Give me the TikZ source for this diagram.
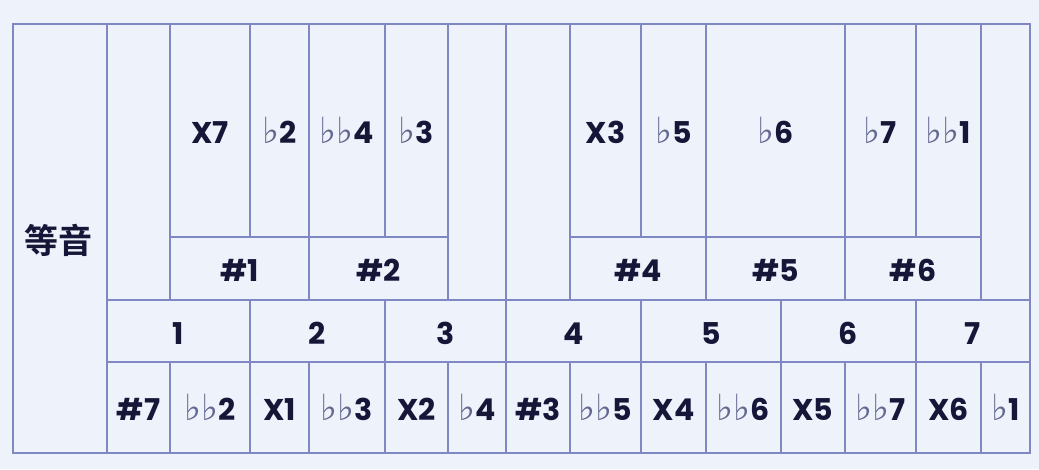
\documentclass[tikz,border=0pt]{standalone}
\usepackage{fontspec}
\setmainfont{Poppins}
\newfontfamily\flatfont{DejaVu Sans}
\newfontfamily\cjkfont{Noto Sans CJK SC}[BoldFont=* Bold]
\definecolor{bgc}{RGB}{238,242,250}
\definecolor{linec}{RGB}{128,136,196}
\definecolor{txtc}{RGB}{22,22,56}
\definecolor{flatc}{RGB}{100,104,145}
\newcommand{\fl}{{\flatfont\mdseries\color{flatc}\fontsize{36}{36}\selectfont\char"266D}}
\newcommand{\cell}[6]{%
  \draw[gridline] (#2,#3) rectangle (#4,#5);
  \node[celltext] (#1) at ({(#2+#4)/2},{(#3+#5)/2+13}) {#6};}
\tikzset{
  gridline/.style={draw=linec, line width=1.2pt},
  celltext/.style={anchor=base, text=txtc, font=\fontsize{30}{32}\selectfont\bfseries, inner sep=0pt}
}
\begin{document}
\begin{tikzpicture}[x=1pt,y=-1pt]
\fill[bgc] (0,0) rectangle (1039,469);
\useasboundingbox (0,0) rectangle (1039,469);
% left label column
\draw[gridline] (13,24) rectangle (107,453);
\node[text=txtc, font=\cjkfont\fontsize{34}{36}\selectfont\bfseries, inner sep=0pt] (label) at (58,240) {等音};
% empty columns
\cell{e1}{107}{24}{170}{300}{}
\cell{e2}{448}{24}{506}{300}{}
\cell{e3}{506}{24}{570}{300}{}
\cell{e4}{981}{24}{1030}{300}{}
% top cells
\cell{x7}{170}{24}{250}{237}{X7}
\cell{fb2}{250}{24}{309}{237}{\fl2}
\cell{ffb4}{309}{24}{385}{237}{\fl\fl4}
\cell{fb3}{385}{24}{448}{237}{\fl3}
\cell{x3}{570}{24}{641}{237}{X3}
\cell{fb5}{641}{24}{706}{237}{\fl5}
\cell{fb6}{706}{24}{845}{237}{\fl6}
\cell{fb7}{845}{24}{916}{237}{\fl7}
\cell{ffb1}{916}{24}{981}{237}{\fl\fl1}
% sharp row
\cell{s1}{170}{237}{309}{300}{\#1}
\cell{s2}{309}{237}{448}{300}{\#2}
\cell{s4}{570}{237}{706}{300}{\#4}
\cell{s5}{706}{237}{845}{300}{\#5}
\cell{s6}{845}{237}{981}{300}{\#6}
% number row
\cell{n1}{107}{300}{250}{362}{1}
\cell{n2}{250}{300}{385}{362}{2}
\cell{n3}{385}{300}{506}{362}{3}
\cell{n4}{506}{300}{641}{362}{4}
\cell{n5}{641}{300}{781}{362}{5}
\cell{n6}{781}{300}{916}{362}{6}
\cell{n7}{916}{300}{1030}{362}{7}
% bottom row
\cell{b1}{107}{362}{170}{453}{\#7}
\cell{b2}{170}{362}{250}{453}{\fl\fl2}
\cell{b3}{250}{362}{309}{453}{X1}
\cell{b4}{309}{362}{385}{453}{\fl\fl3}
\cell{b5}{385}{362}{448}{453}{X2}
\cell{b6}{448}{362}{506}{453}{\fl4}
\cell{b7}{506}{362}{570}{453}{\#3}
\cell{b8}{570}{362}{641}{453}{\fl\fl5}
\cell{b9}{641}{362}{706}{453}{X4}
\cell{b10}{706}{362}{781}{453}{\fl\fl6}
\cell{b11}{781}{362}{845}{453}{X5}
\cell{b12}{845}{362}{916}{453}{\fl\fl7}
\cell{b13}{916}{362}{981}{453}{X6}
\cell{b14}{981}{362}{1030}{453}{\fl1}
\end{tikzpicture}
\end{document}
